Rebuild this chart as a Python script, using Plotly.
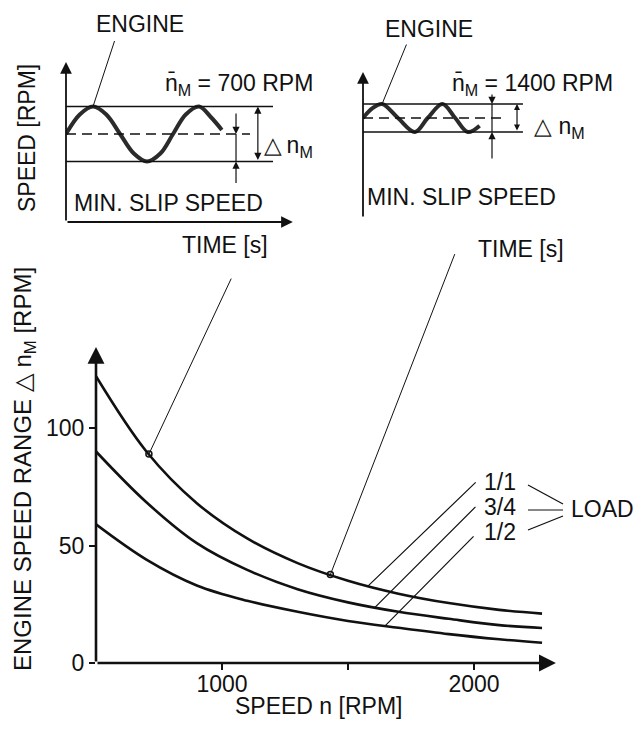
import numpy as np
import plotly.graph_objects as go

W, H = 634, 729
FONT = "Liberation Sans, Arial, Helvetica, sans-serif"
FS = 23
INK = "#111111"

# ---------------- main chart data ----------------
speed_rpm = [500, 700, 900, 1100, 1300, 1500, 1700, 1900, 2100, 2270]
range_load_1_1 = [122, 90, 68, 53, 42.5, 35, 29.5, 25.5, 22.6, 21]
range_load_3_4 = [90, 68.4, 51, 39.6, 31.4, 25.8, 21.8, 18.8, 16.1, 14.9]
range_load_1_2 = [59, 44, 33, 26.5, 21.8, 17.9, 15, 12.3, 10.1, 8.6]
load_labels = ["1/1", "3/4", "1/2"]
y_tick_vals = [0, 50, 100]
x_tick_vals = [1000, 1500, 2000]
x_tick_text = ["1000", "", "2000"]
marked_speeds = [710, 1430]            # operating points shown in the insets
leader_speeds = [1580, 1607, 1647]     # where the LOAD leaders touch the curves

# ---------------- inset data (schematic engine speed vs time) ----------------
inset1_time = [0, 0.13, 0.255, 0.38, 0.51, 0.64, 0.764, 0.89, 1.01, 1.13, 1.255, 1.37, 1.47]
inset1_dev = [0, 0.71, 1, 0.71, 0, -0.71, -1, -0.71, 0, 0.71, 1, 0.6, 0.15]
inset2_time = [0, 0.09, 0.18, 0.33, 0.49, 0.61, 0.75, 0.87, 0.99, 1.10]
inset2_dev = [0, 0.7, 1, 0, -1, 0, 1, 0, -1, -0.55]
band_upper, band_lower, band_mean = 1, -1, 0


def px(x):
    return x / W


def py(y):
    return 1 - y / H


fig = go.Figure()

curves = [range_load_1_1, range_load_3_4, range_load_1_2]
for name, ys in zip(load_labels, curves):
    fig.add_trace(go.Scatter(x=speed_rpm, y=ys, mode="lines", name=name,
                             line=dict(color=INK, width=2.6, shape="spline", smoothing=1),
                             xaxis="x", yaxis="y", cliponaxis=False, showlegend=False))

marked_y = np.interp(marked_speeds, speed_rpm, range_load_1_1)
fig.add_trace(go.Scatter(x=marked_speeds, y=marked_y, mode="markers",
                         marker=dict(symbol="circle-open", size=6, color=INK, line=dict(width=1.5)),
                         xaxis="x", yaxis="y", cliponaxis=False, showlegend=False))

# inset waves and bands
fig.add_trace(go.Scatter(x=inset1_time, y=inset1_dev, mode="lines",
                         line=dict(color="#2b2b2b", width=4, shape="spline", smoothing=1),
                         xaxis="x2", yaxis="y2", showlegend=False, cliponaxis=False))
fig.add_trace(go.Scatter(x=inset2_time, y=inset2_dev, mode="lines",
                         line=dict(color="#2b2b2b", width=4, shape="spline", smoothing=1),
                         xaxis="x3", yaxis="y3", showlegend=False, cliponaxis=False))

for ax_x, ax_y, t_end, t_dash in [("x2", "y2", 1.953, 1.736), ("x3", "y3", 1.509, 1.32)]:
    for lvl in (band_upper, band_lower):
        fig.add_trace(go.Scatter(x=[0, t_end], y=[lvl, lvl], mode="lines",
                                 line=dict(color=INK, width=1.5), xaxis=ax_x, yaxis=ax_y,
                                 showlegend=False, cliponaxis=False))
    fig.add_trace(go.Scatter(x=[0, t_dash], y=[band_mean, band_mean], mode="lines",
                             line=dict(color=INK, width=1.5, dash="10px,6px"), xaxis=ax_x, yaxis=ax_y,
                             showlegend=False, cliponaxis=False))

ann = []


def text(t, x, y, xanchor="center", angle=0, size=FS):
    ann.append(dict(text=t, x=px(x), y=py(y), xref="paper", yref="paper", xanchor=xanchor,
                    yanchor="middle", showarrow=False, textangle=angle,
                    font=dict(family=FONT, size=size, color=INK)))


def arrow(x, y, ax, ay, xr, yr, axr=None, ayr=None, head=2, size=1.0, width=1.2, side="end"):
    d = dict(text="", x=x, y=y, ax=ax, ay=ay, xref=xr, yref=yr, showarrow=True,
             arrowhead=head, arrowsize=size, arrowwidth=width, arrowcolor=INK, arrowside=side,
             startarrowhead=head, startarrowsize=size)
    if axr:
        d["axref"] = axr
        d["ayref"] = ayr
    ann.append(d)


# main axes arrows
arrow(500, 134.5, 500, 0, "x", "y", "x", "y", head=2, size=1.3, width=2.6)
arrow(2325, 0, 500, 0, "x", "y", "x", "y", head=2, size=1.3, width=2.6)

# inset axes arrows
arrow(0, 2.618, 0, -3.2, "x2", "y2", "x2", "y2", head=2, size=1.3, width=1.8)
arrow(2.14, -3.2, 0, -3.2, "x2", "y2", "x2", "y2", head=2, size=1.3, width=1.8)
arrow(0, 3.29, 0, -7.143, "x3", "y3", "x3", "y3", head=2, size=1.3, width=1.8)
arrow(2.142, -7.143, 0, -7.143, "x3", "y3", "x3", "y3", head=2, size=1.3, width=1.8)

# inset dimension arrows
arrow(1.604, band_mean, 0, -22, "x2", "y2", head=2, size=1.2, width=1.2)
arrow(1.604, band_lower, 0, 23, "x2", "y2", head=2, size=1.2, width=1.2)
arrow(1.81, band_upper, 1.81, band_lower, "x2", "y2", "x2", "y2", head=2, size=1.2, width=1.2, side="end+start")
arrow(1.217, band_upper, 0, -11, "x3", "y3", head=2, size=1.2, width=1.2)
arrow(1.217, band_lower, 0, 28, "x3", "y3", head=2, size=1.2, width=1.2)
arrow(1.453, band_upper, 1.453, band_lower, "x3", "y3", "x3", "y3", head=2, size=1.0, width=1.2, side="end+start")

# ENGINE leaders
arrow(inset1_time[2], inset1_dev[2], 22, -67, "x2", "y2", head=0, width=1)
arrow(inset2_time[2], inset2_dev[2], 25, -61, "x3", "y3", head=0, width=1)

# leaders from the operating points to the insets
arrow(marked_speeds[0], marked_y[0], 83, -177, "x", "y", head=0, width=1)
arrow(marked_speeds[1], marked_y[1], 125, -322, "x", "y", head=0, width=1)

# LOAD leaders
for spd, ys, (dx, dy) in zip(leader_speeds, curves, [(109, -105), (102, -102), (90, -91)]):
    arrow(spd, float(np.interp(spd, speed_rpm, ys)), dx, dy, "x", "y", head=0, width=1.2)

# texts
text("ENGINE", 140, 24)
text("ENGINE", 429, 29)
text("n\u0304<sub>M</sub> = 700 RPM", 163, 84, xanchor="left")
text("n\u0304<sub>M</sub> = 1400 RPM", 450, 85, xanchor="left")
text("MIN. SLIP SPEED", 72, 203, xanchor="left")
text("MIN. SLIP SPEED", 365, 197, xanchor="left")
text("SPEED [RPM]", 27, 138, angle=-90)
text("TIME [s]", 225, 245)
text("TIME [s]", 521, 249)
text("\u25B3\u2009n<sub>M</sub>", 262, 147, xanchor="left")
text("\u25B3 n<sub>M</sub>", 532, 127, xanchor="left")
text("ENGINE SPEED RANGE \u25B3 n<sub>M</sub> [RPM]", 24, 469, angle=-90, size=24)
text("SPEED n [RPM]", 318, 706)
for lab, yy in zip(load_labels, [482, 507, 532]):
    text(lab, 482, yy, xanchor="left")
text("LOAD", 569, 509, xanchor="left")

shapes = [
    dict(type="line", x0=1.604, x1=1.604, y0=band_mean, y1=band_lower, xref="x2", yref="y2",
         line=dict(color=INK, width=1.2)),
    dict(type="line", x0=1.217, x1=1.217, y0=band_upper, y1=band_lower, xref="x3", yref="y3",
         line=dict(color=INK, width=1.2)),
    dict(type="line", x0=px(528), y0=py(485), x1=px(563), y1=py(504), xref="paper", yref="paper",
         line=dict(color=INK, width=1.2)),
    dict(type="line", x0=px(528), y0=py(510), x1=px(563), y1=py(510), xref="paper", yref="paper",
         line=dict(color=INK, width=1.2)),
    dict(type="line", x0=px(528), y0=py(530), x1=px(563), y1=py(516), xref="paper", yref="paper",
         line=dict(color=INK, width=1.2)),
]

tickfont = dict(family=FONT, size=FS, color=INK)
fig.update_layout(
    width=W, height=H, margin=dict(l=0, r=0, t=0, b=0, pad=0, autoexpand=False),
    paper_bgcolor="white", plot_bgcolor="rgba(0,0,0,0)",
    showlegend=False, annotations=ann, shapes=shapes,
    xaxis=dict(domain=[px(96), px(570)], range=[500, 500 + (570 - 96) / 0.252],
               tickvals=x_tick_vals, ticktext=x_tick_text, ticks="outside", ticklen=6,
               tickwidth=1.5, tickcolor=INK, tickfont=tickfont, showgrid=False,
               zeroline=False, showline=False, automargin=False, ticklabelstandoff=-6),
    yaxis=dict(domain=[py(663), py(340)], range=[0, (663 - 340) / 2.35],
               tickvals=y_tick_vals, ticks="outside", ticklen=6, tickwidth=1.5,
               tickcolor=INK, tickfont=tickfont, showgrid=False, zeroline=False, showline=False,
               automargin=False),
    xaxis2=dict(domain=[px(66), px(300)], range=[0, (300 - 66) / 106], visible=False,
                anchor="y2", automargin=False),
    yaxis2=dict(domain=[py(222), py(55)], range=[-(222 - 134) / 27.5, (134 - 55) / 27.5],
                visible=False, anchor="x2", automargin=False),
    xaxis3=dict(domain=[px(363), px(600)], range=[0, (600 - 363) / 106], visible=False,
                anchor="y3", automargin=False),
    yaxis3=dict(domain=[py(218), py(60)], range=[-(218 - 118) / 14, (118 - 60) / 14],
                visible=False, anchor="x3", automargin=False),
)

fig.write_html("out.html", config={"displayModeBar": False},
               post_script="document.body.style.margin='0';document.body.style.overflow='hidden';")
